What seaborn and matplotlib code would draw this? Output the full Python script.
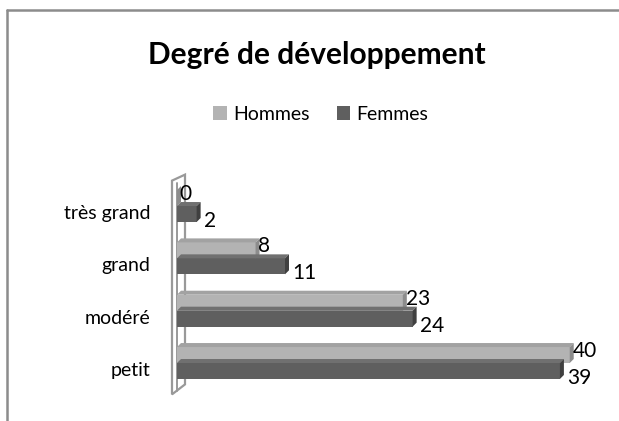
import matplotlib
matplotlib.use("Agg")
import matplotlib.pyplot as plt
from matplotlib.patches import Polygon
from matplotlib.lines import Line2D
import matplotlib.transforms as mtransforms
import seaborn as sns
import pandas as pd

# Data
categories = ["très grand", "grand", "modéré", "petit"]
hommes = [0, 8, 23, 40]
femmes = [2, 11, 24, 39]
series = ["Hommes", "Femmes"]
title = "Degré de développement"

front = {"Hommes": "#b3b3b3", "Femmes": "#5f5f5f"}
top_face = {"Hommes": "#a2a2a2", "Femmes": "#707070"}
side_face = {"Hommes": "#8c8c8c", "Femmes": "#404040"}

df = pd.DataFrame({
    "cat": categories * 2,
    "val": hommes + femmes,
    "sexe": [series[0]] * len(categories) + [series[1]] * len(categories),
})

sns.set_style("white")
plt.rcParams["font.family"] = ["Lato", "DejaVu Sans"]
plt.rcParams["text.color"] = "black"
plt.rcParams["ytick.color"] = "black"

fig = plt.figure(figsize=(6.19, 4.21), dpi=100)
ax = fig.add_axes([177 / 619, 0.0632, 432 / 619, 0.522])

sns.barplot(data=df, x="val", y="cat", hue="sexe", order=categories,
            hue_order=series, palette=front, orient="h", width=0.61,
            saturation=1, ax=ax, legend=False, errorbar=None)

ax.set_xlim(0, 44)
ax.set_ylim(3.6, -0.6)

# pixel -> data conversions for the 3D depth effect
fig.canvas.draw()
px_x = 44 / (ax.get_window_extent().width)
px_y = 4.2 / (ax.get_window_extent().height)
dx, dy = 4 * px_x, 4 * px_y

bars = list(ax.patches)
n = len(categories)
for i, bar in enumerate(bars):
    s = series[i // n]
    x0 = bar.get_x()
    x1 = x0 + bar.get_width()
    yt = bar.get_y()
    yb = yt + bar.get_height()
    bar.set_linewidth(0)
    ax.add_patch(Polygon([(x0, yt), (x1, yt), (x1 + dx, yt - dy), (x0 + dx, yt - dy)],
                         closed=True, facecolor=top_face[s], edgecolor="none",
                         zorder=bar.get_zorder()))
    ax.add_patch(Polygon([(x1, yt), (x1 + dx, yt - dy), (x1 + dx, yb - dy), (x1, yb)],
                         closed=True, facecolor=side_face[s], edgecolor="none",
                         zorder=bar.get_zorder()))
    if s == "Hommes":
        off = (2, 3)
    else:
        off = (5, -5)
    ax.annotate(str(int(bar.get_width())), (x1, yt + bar.get_height() / 2),
                xytext=off, textcoords="offset points",
                ha="left", va="center", fontsize=15, color="black",
                annotation_clip=False)

# back wall of the 3D plot
wx0, wx1 = -5 * px_x, 8 * px_x
ytop, ybot = -0.6, 3.6
ax.add_patch(Polygon([(wx0, ybot), (wx0, ytop + 6 * px_y), (wx1, ytop),
                      (wx1, ybot - 10 * px_y)], closed=True, facecolor="white",
                     edgecolor="#999999", linewidth=1.6, zorder=0.5, clip_on=False))
ax.plot([0, 0], [ytop + 8 * px_y, ybot - 3 * px_y], color="#999999", lw=1.4,
        zorder=0.6, clip_on=False)

for sp in ax.spines.values():
    sp.set_visible(False)
ax.set_xlabel("")
ax.set_ylabel("")
ax.set_xticks([])
ax.tick_params(axis="y", length=0, pad=19, labelsize=14, labelcolor="black")
offset = mtransforms.ScaledTranslation(0, -6 / 100, fig.dpi_scale_trans)
for lab in ax.get_yticklabels():
    lab.set_transform(lab.get_transform() + offset)

fig.text(0.512, 0.869, title, ha="center", va="center", fontsize=21.5,
         fontweight="bold", color="black")

handles = [plt.Rectangle((0, 0), 1, 1, facecolor=front[s], edgecolor="none")
           for s in series]
fig.legend(handles, series, loc="center", bbox_to_anchor=(0.518, 0.729), ncol=2,
           frameon=False, fontsize=14, handlelength=0.7, handleheight=0.7,
           handletextpad=0.3, columnspacing=1.4, labelcolor="black")

# chart frame
fig.add_artist(Line2D([7 / 619, 7 / 619], [0, 1 - 10 / 421], color="#8c8c8c", lw=1.8))
fig.add_artist(Line2D([7 / 619, 1], [1 - 10 / 421, 1 - 10 / 421], color="#8c8c8c", lw=1.8))

fig.savefig("out.png", dpi=100)
